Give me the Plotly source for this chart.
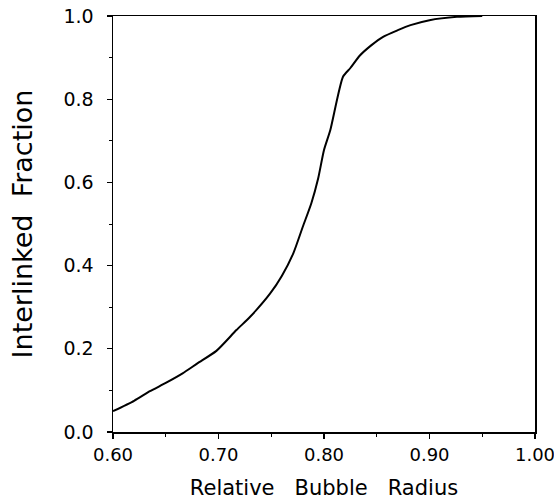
import plotly.graph_objects as go

radius = [0.60, 0.62, 0.635, 0.65, 0.666, 0.68, 0.698, 0.717, 0.73, 0.749, 0.76,
          0.771, 0.780, 0.788, 0.7945, 0.80, 0.806, 0.818, 0.825, 0.834, 0.845,
          0.856, 0.87, 0.882, 0.90, 0.926, 0.95]
fraction = [0.05, 0.075, 0.098, 0.118, 0.141, 0.165, 0.195, 0.245, 0.277, 0.333, 0.375,
            0.43, 0.494, 0.55, 0.61, 0.678, 0.726, 0.854, 0.875, 0.905, 0.93,
            0.95, 0.966, 0.978, 0.99, 0.998, 1.0]

x_ticks = [0.60, 0.70, 0.80, 0.90, 1.00]
x_labels = ["0.60", "0.70", "0.80", "0.90", "1.00"]
y_ticks = [0.0, 0.2, 0.4, 0.6, 0.8, 1.0]
y_labels = ["0.0", "0.2", "0.4", "0.6", "0.8", "1.0"]
x_minor = [0.65, 0.75, 0.85, 0.95]
y_minor = [0.1, 0.3, 0.5, 0.7, 0.9]

fig = go.Figure(go.Scatter(x=radius, y=fraction, mode="lines",
                           line=dict(color="black", width=2, shape="spline", smoothing=0.6),
                           hoverinfo="skip"))

fig.update_layout(
    width=554, height=500,
    margin=dict(l=113, r=19, t=16, b=68),
    paper_bgcolor="white", plot_bgcolor="white",
    showlegend=False,
    font=dict(family="DejaVu Sans", size=19, color="black"),
    xaxis=dict(range=[0.6, 1.0], tickvals=x_ticks, ticktext=x_labels,
               ticks="outside", ticklen=5, tickwidth=1.2, tickcolor="black",
               ticklabelstandoff=1, ticklabeloverflow="allow",
               tickfont=dict(size=18),
               minor=dict(tickvals=x_minor, ticks="outside", ticklen=3,
                          tickcolor="black", tickwidth=1),
               showline=True, linecolor="black", linewidth=1.5, mirror=True,
               showgrid=False, zeroline=False, automargin=False,
               title=dict(text="Relative\u00a0\u00a0 Bubble\u00a0\u00a0 Radius",
                          font=dict(size=21, family="DejaVu Sans"), standoff=16)),
    yaxis=dict(range=[0.0, 1.0], tickvals=y_ticks, ticktext=y_labels,
               ticks="outside", ticklen=5, tickwidth=1.2, tickcolor="black",
               ticklabelstandoff=9,
               minor=dict(tickvals=y_minor, ticks="outside", ticklen=3,
                          tickcolor="black", tickwidth=1),
               showline=True, linecolor="black", linewidth=1.5, mirror=True,
               showgrid=False, zeroline=False, automargin=False,
               title=dict(text="Interlinked\u00a0 Fraction",
                          font=dict(size=27, family="DejaVu Sans"), standoff=23)),
)

fig.write_html("out.html", config={"displayModeBar": False, "staticPlot": True},
               post_script="document.body.style.margin='0';document.body.style.padding='0';")
